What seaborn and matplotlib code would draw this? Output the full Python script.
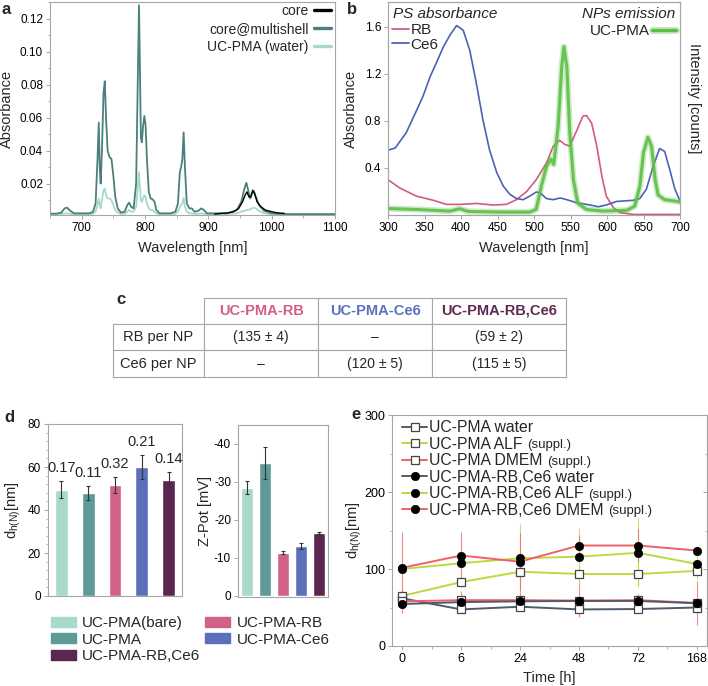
# Nanoparticle characterisation figure (panels a-e)
import numpy as np
import pandas as pd
import seaborn as sns
import matplotlib.pyplot as plt
from matplotlib.lines import Line2D
from matplotlib.patches import Patch
from matplotlib.ticker import MultipleLocator

# ---------------- data ----------------
# (a) NIR absorbance
wl_a = [650, 660, 668, 673, 677, 682, 688, 700, 712, 718,
        722, 725, 727, 728.5, 730, 732, 734.5, 736.5, 738.5, 741,
        744, 747, 750, 753, 757, 762, 768, 772, 775, 778,
        782, 786, 788.5, 790.5, 792, 793.5, 795, 797, 799, 801,
        803, 806, 809, 812, 815, 818, 823, 840, 848, 852,
        855, 857, 859, 861, 863, 866, 870, 874, 878, 884,
        889, 893, 898, 910, 930, 945, 952, 957, 960, 963,
        966, 969, 972, 975, 980, 988, 1000, 1030, 1100]
abs_multishell = [0.0018, 0.0018, 0.0025, 0.005, 0.0055, 0.0035, 0.002, 0.002, 0.002, 0.003,
                  0.008, 0.035, 0.057, 0.03, 0.02, 0.04, 0.075, 0.082, 0.06, 0.04,
                  0.036, 0.035, 0.025, 0.012, 0.005, 0.0025, 0.003, 0.007, 0.0085, 0.006,
                  0.005, 0.02, 0.08, 0.128, 0.09, 0.048, 0.045, 0.055, 0.061, 0.055,
                  0.035, 0.015, 0.011, 0.0105, 0.009, 0.004, 0.002, 0.002, 0.003, 0.008,
                  0.027, 0.03, 0.035, 0.051, 0.03, 0.008, 0.005, 0.005, 0.003, 0.0035,
                  0.005, 0.004, 0.002, 0.002, 0.002, 0.004, 0.009, 0.017, 0.0205, 0.016,
                  0.011, 0.014, 0.0155, 0.012, 0.007, 0.0035, 0.002, 0.0015, 0.0015]
abs_ucpma = [0.0015, 0.0015, 0.0015, 0.002, 0.002, 0.0017, 0.0015, 0.0015, 0.0015, 0.0017,
             0.003, 0.007, 0.011, 0.007, 0.005, 0.01, 0.016, 0.017, 0.013, 0.011,
             0.011, 0.01, 0.007, 0.004, 0.0025, 0.0017, 0.0017, 0.003, 0.004, 0.003,
             0.003, 0.006, 0.017, 0.027, 0.018, 0.01, 0.009, 0.011, 0.013, 0.012,
             0.008, 0.005, 0.004, 0.004, 0.003, 0.002, 0.0015, 0.0015, 0.0017, 0.003,
             0.006, 0.007, 0.008, 0.0115, 0.006, 0.003, 0.002, 0.002, 0.0017, 0.0017,
             0.002, 0.0017, 0.0015, 0.0015, 0.0017, 0.002, 0.003, 0.0035, 0.004, 0.0042,
             0.0045, 0.005, 0.0055, 0.005, 0.0035, 0.002, 0.0015, 0.0015, 0.0015]
wl_core = [910, 920, 930, 940, 948, 954, 958, 961, 964, 967, 970, 973, 977, 983, 990, 1000, 1010, 1020]
abs_core = [0.0015, 0.002, 0.0022, 0.003, 0.005, 0.009, 0.013, 0.015, 0.012, 0.012,
            0.016, 0.014, 0.009, 0.006, 0.004, 0.003, 0.0022, 0.002]

# (b) photosensitiser absorbance and NP emission
wl_ce6 = [300, 310, 325, 340, 348, 358, 366, 376, 385, 394, 403, 412, 421, 430, 439, 449, 458, 467,
          476, 485, 494, 503, 508, 517, 526, 536, 545, 558, 577, 588, 599, 613, 636, 645, 654, 663,
          672, 679, 686, 693, 700]
abs_ce6 = [0.55, 0.57, 0.70, 0.90, 1.01, 1.18, 1.29, 1.43, 1.53, 1.61, 1.57, 1.40, 1.12, 0.81, 0.555,
           0.36, 0.245, 0.175, 0.14, 0.13, 0.16, 0.195, 0.19, 0.14, 0.13, 0.145, 0.13, 0.105, 0.085,
           0.07, 0.085, 0.115, 0.125, 0.14, 0.22, 0.41, 0.565, 0.54, 0.385, 0.22, 0.12]
wl_rb = [300, 316, 339, 362, 380, 398, 421, 444, 462, 476, 490, 503, 517, 526, 535, 542, 549, 558,
         567, 572, 579, 586, 593, 599, 609, 618, 636, 700]
abs_rb = [0.30, 0.23, 0.16, 0.125, 0.09, 0.09, 0.098, 0.085, 0.09, 0.13, 0.20, 0.30, 0.44, 0.58,
          0.635, 0.60, 0.585, 0.71, 0.84, 0.845, 0.78, 0.585, 0.33, 0.16, 0.06, 0.02, 0.005, 0.005]
wl_em = [300, 339, 385, 398, 410, 453, 494, 503, 510, 517, 523, 527, 533, 538, 541, 545, 549, 554,
         560, 572, 595, 627, 638, 645, 650, 656, 661, 666, 670, 679, 691, 700]
em_ucpma = [0.055, 0.047, 0.033, 0.053, 0.03, 0.025, 0.025, 0.047, 0.245, 0.41, 0.475, 0.43, 0.75,
            1.26, 1.43, 1.26, 0.70, 0.30, 0.10, 0.047, 0.033, 0.04, 0.075, 0.245, 0.53, 0.66, 0.585,
            0.30, 0.17, 0.13, 0.12, 0.11]

# (c) loading table
tab_cols = ["UC-PMA-RB", "UC-PMA-Ce6", "UC-PMA-RB,Ce6"]
tab_rows = ["RB per NP", "Ce6 per NP"]
rb_per_np = ["(135 ± 4)", "–", "(59 ± 2)"]
ce6_per_np = ["–", "(120 ± 5)", "(115 ± 5)"]

# (d) hydrodynamic size and zeta potential
samples = ["UC-PMA(bare)", "UC-PMA", "UC-PMA-RB", "UC-PMA-Ce6", "UC-PMA-RB,Ce6"]
dh = [49.5, 48, 51.5, 60, 54]
dh_err = [4, 3.3, 3.7, 5.8, 3.8]
pdi = ["0.17", "0.11", "0.32", "0.21", "0.14"]
zpot = [-28.5, -35, -11.3, -13.1, -16.6]
zpot_err = [1.8, 4.2, 0.4, 0.8, 0.2]

# (e) colloidal stability over time
t_labels = ["0", "6", "24", "48", "72", "168"]
uc_water = [62, 47.5, 51, 47.5, 48, 50]
uc_water_err = [3, 3, 3, 3, 3, 3]
uc_alf = [65, 83, 96.5, 93.5, 93.5, 97.5]
uc_alf_err = [5, 6, 10, 12, 16, 6]
uc_dmem = [58, 59.5, 59.5, 59, 59.5, 56]
uc_dmem_err = [15, 12, 14, 21, 8, 29]
rc_water = [54.5, 57, 58, 58.5, 58.5, 55.5]
rc_water_err = [3, 3, 3, 3, 3, 3]
rc_alf = [100, 107.5, 114, 116, 121, 106.5]
rc_alf_err = [5, 6, 45, 37, 45, 20]
rc_dmem = [101.5, 117.5, 109.5, 130.5, 130.5, 124]
rc_dmem_err = [47, 31, 37, 14, 22, 6]

# ---------------- style ----------------
C_SHELL = '#4b807d'
C_LIGHT = '#a8d8c8'
C_RB = '#d45a80'
C_CE6 = '#4a63b7'
C_EM = '#5cbf45'
bar_colors = ['#a8d9c9', '#5e9b98', '#d16285', '#5b6fba', '#5b2750']
head_colors = ['#d35d85', '#5b70bf', '#5e2a52']
C_GRAY, C_GREEN, C_RED = '#4e5c6b', '#bed83e', '#f25f68'

sns.set_theme(style="ticks")
plt.rcParams.update({
    'font.family': ['Liberation Sans', 'DejaVu Sans'],
    'axes.unicode_minus': False,
    'axes.edgecolor': '#a6a6a6',
    'axes.linewidth': 0.8,
    'xtick.color': '#a6a6a6', 'ytick.color': '#a6a6a6',
    'xtick.labelcolor': 'black', 'ytick.labelcolor': 'black',
    'xtick.labelsize': 8.5, 'ytick.labelsize': 8.5,
    'xtick.major.size': 3, 'ytick.major.size': 3,
    'xtick.minor.size': 1.8, 'ytick.minor.size': 1.8,
    'xtick.major.width': 0.7, 'ytick.major.width': 0.7,
    'xtick.minor.width': 0.6, 'ytick.minor.width': 0.6,
    'xtick.major.pad': 2, 'ytick.major.pad': 2,
    'axes.labelsize': 10.5,
})

W, H = 708, 686
fig = plt.figure(figsize=(W / 100, H / 100), dpi=100)


def box(l, t, r, b):
    return fig.add_axes([l / W, 1 - b / H, (r - l) / W, (b - t) / H])


def fx(px):
    return px / W


def fy(py):
    return 1 - py / H


# ---------------- (a) ----------------
ax_a = box(50, 2, 335, 215)
sns.lineplot(x=wl_a, y=abs_ucpma, ax=ax_a, color=C_LIGHT, lw=1.3)
sns.lineplot(x=wl_a, y=abs_multishell, ax=ax_a, color=C_SHELL, lw=1.3)
sns.lineplot(x=wl_core, y=abs_core, ax=ax_a, color='black', lw=1.0)
ax_a.set_xlim(650, 1100)
ax_a.set_ylim(0.001, 0.13)
ax_a.xaxis.set_major_locator(MultipleLocator(100))
ax_a.xaxis.set_minor_locator(MultipleLocator(50))
ax_a.yaxis.set_major_locator(MultipleLocator(0.02))
ax_a.yaxis.set_minor_locator(MultipleLocator(0.01))
ax_a.set_xlabel("Wavelength [nm]")
ax_a.set_ylabel("Absorbance")
ax_a.xaxis.set_label_coords(0.5, -0.12)
ax_a.yaxis.set_label_coords(-0.126, 0.5)
ax_a.legend(handles=[Line2D([], [], color='black', lw=2.4),
                     Line2D([], [], color=C_SHELL, lw=2.4),
                     Line2D([], [], color=C_LIGHT, lw=2.4)],
            labels=["core", "core@multishell", "UC-PMA (water)"],
            loc='upper right', bbox_to_anchor=(fx(331), fy(4)), bbox_transform=fig.transFigure,
            markerfirst=False, frameon=False, fontsize=10, handlelength=1.25,
            handletextpad=0.35, labelspacing=0.3, borderpad=0, borderaxespad=0)

# ---------------- (b) ----------------
ax_b = box(388, 2, 680, 215)
sns.lineplot(x=wl_rb, y=abs_rb, ax=ax_b, color=C_RB, lw=1.2)
sns.lineplot(x=wl_ce6, y=abs_ce6, ax=ax_b, color=C_CE6, lw=1.2)
ax_em = ax_b.twinx()
sns.lineplot(x=wl_em, y=em_ucpma, ax=ax_em, color=C_EM, lw=4.5, alpha=0.3)
sns.lineplot(x=wl_em, y=em_ucpma, ax=ax_em, color=C_EM, lw=2.2, alpha=0.9)
for ax in (ax_b, ax_em):
    ax.set_xlim(300, 700)
    ax.set_ylim(0, 1.81)
ax_em.set_yticks([])
ax_em.set_ylabel("")
ax_b.xaxis.set_major_locator(MultipleLocator(50))
ax_b.set_yticks([0.4, 0.8, 1.2, 1.6])
ax_b.set_xlabel("Wavelength [nm]")
ax_b.set_ylabel("Absorbance")
ax_b.xaxis.set_label_coords(0.5, -0.12)
ax_b.yaxis.set_label_coords(-0.103, 0.5)
fig.text(fx(694), fy(98), "Intensity [counts]", rotation=270, ha='center', va='center', fontsize=10.5)
fig.text(fx(393), fy(14), "PS absorbance", style='italic', ha='left', va='center', fontsize=11)
fig.text(fx(675), fy(14), "NPs emission", style='italic', ha='right', va='center', fontsize=11)
ax_b.legend(handles=[Line2D([], [], color=C_RB, lw=1.3), Line2D([], [], color=C_CE6, lw=1.3)],
            labels=["RB", "Ce6"], loc='upper left', bbox_to_anchor=(fx(392), fy(23)),
            bbox_transform=fig.transFigure, frameon=False, fontsize=11, handlelength=1.1,
            handletextpad=0.1, labelspacing=0.05, borderpad=0, borderaxespad=0)
ax_em.legend(handles=[(Line2D([], [], color=C_EM, lw=5, alpha=0.35),
                       Line2D([], [], color=C_EM, lw=2.4))],
             labels=["UC-PMA"], loc='upper right', bbox_to_anchor=(fx(676), fy(24)),
             bbox_transform=fig.transFigure, markerfirst=False, frameon=False, fontsize=11,
             handlelength=1.6, handletextpad=0.1, borderpad=0, borderaxespad=0)

# ---------------- (c) ----------------
ax_c = box(112.7, 297.7, 566, 376.7)
ax_c.axis('off')
cells = [[""] + tab_cols,
         [tab_rows[0]] + rb_per_np,
         [tab_rows[1]] + ce6_per_np]
widths = np.array([91.6, 114, 114, 133.7])
tab = ax_c.table(cellText=cells, cellLoc='center', bbox=[0, 0, 1, 1],
                 colWidths=list(widths / widths.sum()))
tab.auto_set_font_size(False)
for (r, c), cell in tab.get_celld().items():
    cell.set_edgecolor('#a6a6a6')
    cell.set_linewidth(0.8)
    txt = cell.get_text()
    txt.set_fontsize(10.5 if (r == 0 or c == 0) else 10)
    if r == 0 and c > 0:
        txt.set_color(head_colors[c - 1])
        txt.set_fontweight('bold')
tab[0, 0].visible_edges = ''

# ---------------- (d) ----------------
df_d = pd.DataFrame({'sample': samples, 'dh': dh, 'zpot': zpot})
ax_d1 = box(48, 424, 182, 596)
sns.barplot(data=df_d, x='sample', y='dh', hue='sample', palette=bar_colors, saturation=1,
            width=0.48, ax=ax_d1, legend=False)
ax_d1.errorbar(np.arange(len(samples)), dh, yerr=dh_err, fmt='none', ecolor='#333333',
               elinewidth=0.8, capsize=1.5, capthick=0.8)
for i, lab in enumerate(pdi):
    ax_d1.text(i, dh[i] + dh_err[i] + 6, lab, ha='center', va='center', fontsize=10.5)
ax_d1.set_xlim(-0.5, 4.5)
ax_d1.set_ylim(0, 80)
ax_d1.set_xticks([])
ax_d1.set_xlabel("")
ax_d1.yaxis.set_major_locator(MultipleLocator(20))
ax_d1.yaxis.set_minor_locator(MultipleLocator(4))
ax_d1.set_ylabel(r"$\mathregular{d_{h(N)}}$[nm]")
ax_d1.yaxis.set_label_coords(-0.19, 0.5)

ax_d2 = box(238, 425, 328, 597)
sns.barplot(data=df_d, x='sample', y='zpot', hue='sample', palette=bar_colors, saturation=1,
            width=0.7, ax=ax_d2, legend=False)
ax_d2.errorbar(np.arange(len(samples)), zpot, yerr=zpot_err, fmt='none', ecolor='#333333',
               elinewidth=0.8, capsize=1.5, capthick=0.8)
ax_d2.set_xlim(-0.5, 4.5)
ax_d2.set_ylim(0.3, -45)
ax_d2.set_xticks([])
ax_d2.set_xlabel("")
ax_d2.set_yticks([0, -10, -20, -30, -40])
ax_d2.set_ylabel("Z-Pot [mV]")
ax_d2.yaxis.set_label_coords(-0.29, 0.5)

order = [0, 1, 4, 2, 3]
fig.legend(handles=[Patch(color=bar_colors[i]) for i in order],
           labels=[samples[i] for i in order], ncol=2, loc='upper left',
           bbox_to_anchor=(fx(51), fy(616)), frameon=False, fontsize=11,
           handlelength=1.65, handleheight=0.65, handletextpad=0.4, columnspacing=0.3,
           labelspacing=0.18, borderpad=0, borderaxespad=0)

# ---------------- (e) ----------------
ax_e = box(392, 415, 707, 646)
xs = np.arange(len(t_labels))
series = [
    ("UC-PMA water", uc_water, uc_water_err, C_GRAY, 's'),
    ("UC-PMA ALF", uc_alf, uc_alf_err, C_GREEN, 's'),
    ("UC-PMA DMEM", uc_dmem, uc_dmem_err, C_RED, 's'),
    ("UC-PMA-RB,Ce6 water", rc_water, rc_water_err, C_GRAY, 'o'),
    ("UC-PMA-RB,Ce6 ALF", rc_alf, rc_alf_err, C_GREEN, 'o'),
    ("UC-PMA-RB,Ce6 DMEM", rc_dmem, rc_dmem_err, C_RED, 'o'),
]
for name, vals, errs, col, mk in series:
    ax_e.errorbar(xs, vals, yerr=errs, fmt='none', ecolor=col, elinewidth=0.8, alpha=0.75)
handles_e = []
for name, vals, errs, col, mk in series:
    if mk == 's':
        mstyle = dict(marker='s', markersize=5.5, markerfacecolor='white', markeredgecolor='#444444',
                      markeredgewidth=0.9)
    else:
        mstyle = dict(marker='o', markersize=6, markerfacecolor='black', markeredgecolor='black',
                      markeredgewidth=0.5)
    sns.lineplot(x=xs, y=vals, ax=ax_e, color=col, lw=1.4, **mstyle)
    handles_e.append(Line2D([], [], color=col, lw=1.4, **mstyle))
ax_e.set_xlim(-0.17, 5.17)
ax_e.set_ylim(0, 300)
ax_e.set_xticks(xs)
ax_e.set_xticklabels(t_labels)
ax_e.xaxis.set_minor_locator(MultipleLocator(0.5))
ax_e.yaxis.set_major_locator(MultipleLocator(100))
ax_e.yaxis.set_minor_locator(MultipleLocator(50))
ax_e.tick_params(axis='both', labelsize=9)
sec = ax_e.secondary_yaxis('right')
sec.yaxis.set_major_locator(MultipleLocator(100))
sec.yaxis.set_minor_locator(MultipleLocator(50))
sec.tick_params(which='both', direction='in', labelright=False)
ax_e.set_xlabel("Time [h]")
ax_e.set_ylabel(r"$\mathregular{d_{h(N)}}$[nm]")
ax_e.xaxis.set_label_coords(0.5, -0.11)
ax_e.yaxis.set_label_coords(-0.088, 0.5)
leg_e = ax_e.legend(handles=handles_e, labels=[s[0] for s in series], loc='upper left',
                    bbox_to_anchor=(fx(402), fy(420)), bbox_transform=fig.transFigure,
                    frameon=False, fontsize=11.3, handlelength=1.6, handletextpad=0.15,
                    labelspacing=0.1, borderpad=0, borderaxespad=0)
for i in [1, 2, 4, 5]:
    ax_e.annotate("(suppl.)", xy=(1, 0), xycoords=leg_e.get_texts()[i], xytext=(3, 0.3),
                  textcoords='offset points', fontsize=9.5, ha='left', va='bottom', zorder=10)

# ---------------- panel letters ----------------
for lab, x, y in [("a", 6, 9), ("b", 352, 9), ("c", 121, 299), ("d", 9, 417), ("e", 356, 414)]:
    fig.text(fx(x), fy(y), lab, fontsize=12, fontweight='bold', ha='center', va='center')

fig.savefig("out.png", dpi=100)
